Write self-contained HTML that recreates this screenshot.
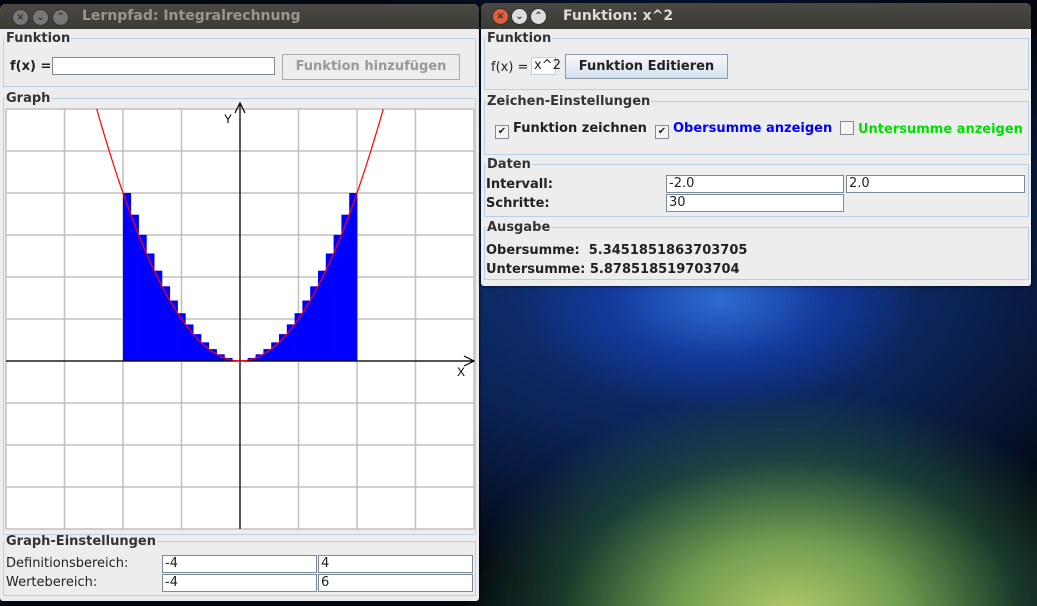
<!DOCTYPE html>
<html><head><meta charset="utf-8"><style>
body{margin:0;width:1037px;height:606px;overflow:hidden;position:relative;font-family:"DejaVu Sans","Liberation Sans",sans-serif;font-size:13px;color:#222;
background:radial-gradient(ellipse 200px 110px at 720px 300px,#2e6bd0 0%,rgba(20,60,170,0.7) 55%,rgba(0,0,0,0) 100%),
radial-gradient(ellipse 330px 230px at 790px 620px,#b8cc6a 0%,#6f9c50 35%,rgba(40,90,60,0.6) 70%,rgba(0,0,0,0) 100%),
radial-gradient(ellipse 520px 330px at 680px 260px,#123a8a 0%,#0b2356 55%,#03070f 100%),#020408;}
.win{position:absolute;background:#ededed;border-radius:6px 6px 3px 3px;overflow:hidden;box-shadow:0 0 3px #000}
.tb{height:25px;background:linear-gradient(#4a4944,#3b3a35);color:#dfdbd2;font-weight:bold;font-size:14px;line-height:25px;position:relative}
.btn{position:absolute;top:5px;width:15px;height:15px;border-radius:50%;background:#777;border:1px solid #333;color:#333;font-size:10px;line-height:15px;text-align:center}
fieldset{position:absolute;border:1px solid #b8cfe5;margin:0;padding:0}
legend{font-size:13px;padding:0 1px;margin-left:1px;font-weight:bold;color:#333}
.lbl{position:absolute;font-size:13px}
.in{position:absolute;background:#fff;border:1px solid #7a8a99;font-size:13px;line-height:16px;padding-left:2px;box-sizing:border-box;height:18px}
.cb{display:inline-block;width:12px;height:12px;border:1px solid #889;background:#f4f4f4;vertical-align:-2px;margin-right:4px;font-size:10px;line-height:12px;text-align:center;font-weight:normal}
</style></head><body>
<div class="win" style="left:0;top:4px;width:479px;height:597px">
 <div class="tb">
  <span class="btn" style="left:12px">×</span><span class="btn" style="left:32px">⌄</span><span class="btn" style="left:52px">⌃</span>
  <span style="position:absolute;left:82px;color:#9a968c">Lernpfad: Integralrechnung</span></div>
 <fieldset style="left:3px;top:27px;width:471px;height:54px"><legend>Funktion</legend></fieldset>
 <span class="lbl" style="left:10px;top:55px;font-weight:bold">f(x) =</span>
 <div class="in" style="left:52px;top:53px;width:223px"></div>
 <div style="position:absolute;left:282px;top:50px;width:178px;border:1px solid #aaa;color:#999;font-weight:bold;text-align:center;line-height:24px;box-sizing:border-box;height:26px">Funktion hinzufügen</div>
 <fieldset style="left:3px;top:87px;width:471px;height:442px"><legend>Graph</legend></fieldset>
 <svg id="plot" style="position:absolute;left:0;top:-4px" width="479" height="540"></svg>
 <fieldset style="left:3px;top:530px;width:471px;height:60px"><legend>Graph-Einstellungen</legend></fieldset>
 <span class="lbl" style="left:6px;top:552px">Definitionsbereich:</span>
 <span class="lbl" style="left:6px;top:571px">Wertebereich:</span>
 <div class="in" style="left:162px;top:551px;width:155px">-4</div>
 <div class="in" style="left:318px;top:551px;width:155px">4</div>
 <div class="in" style="left:162px;top:570px;width:155px">-4</div>
 <div class="in" style="left:318px;top:570px;width:155px">6</div>
</div>

<div class="win" style="left:481px;top:3px;width:550px;height:283px">
 <div class="tb" style="height:26px;line-height:26px">
  <span class="btn" style="left:11px;background:#e0603a">×</span><span class="btn" style="left:30px;background:#ddd">⌄</span><span class="btn" style="left:49px;background:#ddd">⌃</span>
  <span style="position:absolute;left:82px">Funktion: x^2</span></div>
 <fieldset style="left:3px;top:28px;width:543px;height:57px"><legend>Funktion</legend></fieldset>
 <span class="lbl" style="left:10px;top:57px">f(x) =</span>
 <div class="in" style="left:50px;top:54px;width:25px;border-color:#b8cfe5">x^2</div>
 <div style="position:absolute;left:84px;top:51px;width:163px;height:25px;border:1px solid #8899aa;background:linear-gradient(#f6f8fb,#d5e0ec);font-weight:bold;text-align:center;line-height:24px;box-sizing:border-box">Funktion Editieren</div>
 <fieldset style="left:3px;top:91px;width:543px;height:59px"><legend>Zeichen-Einstellungen</legend></fieldset>
 <span class="lbl" style="left:14px;top:118px;font-weight:bold"><span class="cb">✔</span>Funktion zeichnen</span>
 <span class="lbl" style="left:174px;top:118px;color:#00f;font-weight:bold"><span class="cb" style="color:#222">✔</span>Obersumme anzeigen</span>
 <span class="lbl" style="left:359px;top:118px;color:#0d0;font-weight:bold"><span class="cb"></span>Untersumme anzeigen</span>
 <fieldset style="left:3px;top:154px;width:543px;height:58px"><legend>Daten</legend></fieldset>
 <span class="lbl" style="left:5px;top:174px;font-weight:bold">Intervall:</span>
 <span class="lbl" style="left:5px;top:193px;font-weight:bold">Schritte:</span>
 <div class="in" style="left:185px;top:172px;width:178px">-2.0</div>
 <div class="in" style="left:365px;top:172px;width:179px">2.0</div>
 <div class="in" style="left:185px;top:191px;width:178px">30</div>
 <fieldset style="left:3px;top:217px;width:543px;height:58px"><legend>Ausgabe</legend></fieldset>
 <span class="lbl" style="left:5px;top:240px;font-weight:bold">Obersumme:&nbsp; 5.3451851863703705</span>
 <span class="lbl" style="left:5px;top:259px;font-weight:bold">Untersumme: 5.878518519703704</span>
</div>
<script>
const xTicks=[-4,-3,-2,-1,0,1,2,3,4];
const yTicks=[-4,-3,-2,-1,0,1,2,3,4,5,6];
const barHeights=[4,3.484,3.004,2.56,2.151,1.778,1.44,1.138,0.871,0.64,0.444,0.284,0.16,0.071,0.018,0.018,0.071,0.16,0.284,0.444,0.64,0.871,1.138,1.44,1.778,2.151,2.56,3.004,3.484,4];
const intervalStart=-2, intervalEnd=2;
const curveX=[-2.6,-2.5,-2.4,-2.3,-2.2,-2.1,-2,-1.9,-1.8,-1.7,-1.6,-1.5,-1.4,-1.3,-1.2,-1.1,-1,-0.9,-0.8,-0.7,-0.6,-0.5,-0.4,-0.3,-0.2,-0.1,0,0.1,0.2,0.3,0.4,0.5,0.6,0.7,0.8,0.9,1,1.1,1.2,1.3,1.4,1.5,1.6,1.7,1.8,1.9,2,2.1,2.2,2.3,2.4,2.5,2.6];
const curveY=[6.76,6.25,5.76,5.29,4.84,4.41,4,3.61,3.24,2.89,2.56,2.25,1.96,1.69,1.44,1.21,1,0.81,0.64,0.49,0.36,0.25,0.16,0.09,0.04,0.01,0,0.01,0.04,0.09,0.16,0.25,0.36,0.49,0.64,0.81,1,1.21,1.44,1.69,1.96,2.25,2.56,2.89,3.24,3.61,4,4.41,4.84,5.29,5.76,6.25,6.76];
const L=6,R=474,T=109,B=529;
const sx=v=>L+(v+4)/8*(R-L), sy=v=>B-(v+4)/10*(B-T);
const svg=document.getElementById('plot'),NS='http://www.w3.org/2000/svg';
function mk(t,a){const e=document.createElementNS(NS,t);for(const k in a)e.setAttribute(k,a[k]);svg.appendChild(e);return e;}
let bg=mk('rect',{x:L,y:T,width:R-L,height:B-T,fill:'#fff',stroke:'#c8c8c8'});


xTicks.forEach(v=>{const e=mk('line',{x1:sx(v),x2:sx(v),y1:T,y2:B,stroke:'#c0c0c0','stroke-width':1.5});

});
yTicks.forEach(v=>{const e=mk('line',{x1:L,x2:R,y1:sy(v),y2:sy(v),stroke:'#c0c0c0','stroke-width':1.5});

});
const w=(intervalEnd-intervalStart)/barHeights.length;
barHeights.forEach((h,i)=>{const x0=sx(intervalStart+i*w),x1=sx(intervalStart+(i+1)*w);
const e=mk('rect',{x:x0,y:sy(h),width:x1-x0+0.3,height:sy(0)-sy(h),fill:'#0000ff'});

});
let ax=mk('path',{d:`M${L} ${sy(0)}H${R}M${R-10} ${sy(0)-5}L${R} ${sy(0)}L${R-10} ${sy(0)+5}M${sx(0)} ${B}V${T-6}M${sx(0)-5} ${T+4}L${sx(0)} ${T-6}L${sx(0)+5} ${T+4}`,stroke:'#000',fill:'none','stroke-width':1.2});


let tx=mk('text',{x:R-17,y:sy(0)+15,'font-size':12,'font-family':'Liberation Sans'});tx.textContent='X';


let ty=mk('text',{x:sx(0)-16,y:T+14,'font-size':12,'font-family':'Liberation Sans'});ty.textContent='Y';


const clip=mk('clipPath',{id:'c'});
const cp=document.createElementNS(NS,'rect');
cp.setAttribute('x',L);cp.setAttribute('y',T);cp.setAttribute('width',R-L);cp.setAttribute('height',B-T);
clip.appendChild(cp);
let cv=mk('polyline',{points:curveX.map((x,i)=>sx(x)+','+sy(curveY[i])).join(' '),fill:'none',stroke:'#ff0000','stroke-width':1.2,'clip-path':'url(#c)'});


</script>
</body></html>
